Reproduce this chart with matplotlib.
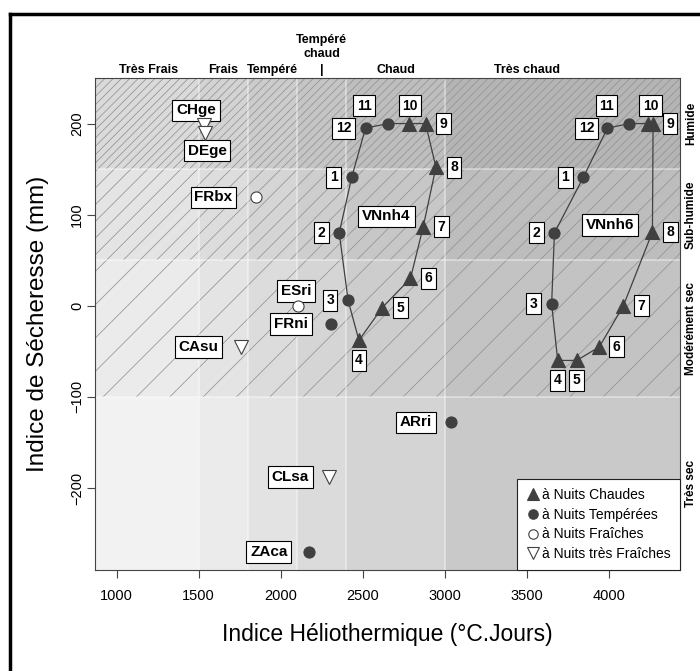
import matplotlib
matplotlib.use("Agg")
import matplotlib.pyplot as plt
from matplotlib.patches import Rectangle
from matplotlib.lines import Line2D
import matplotlib.transforms as mtransforms

plt.rcParams['font.family'] = ['Liberation Sans', 'DejaVu Sans']
plt.rcParams['hatch.linewidth'] = 0.55

# ---------------- data ----------------
months = ['1', '2', '3', '4', '5', '6', '7', '8', '9', '10', '11', '12']
vn4_x = [2432, 2356, 2410, 2476, 2618, 2790, 2868, 2945, 2882, 2780, 2654, 2516]
vn4_y = [141, 80, 6, -38, -2, 30, 87, 152, 200, 200, 200, 195]
vn6_x = [3843, 3667, 3650, 3687, 3803, 3941, 4087, 4264, 4268, 4240, 4124, 3990]
vn6_y = [141, 80, 2, -60, -60, -45, 0, 81, 200, 200, 200, 195]
# night class per month: 'T' = tempérées (filled circle), 'C' = chaudes (triangle)
vn4_night = ['T', 'T', 'T', 'C', 'C', 'C', 'C', 'C', 'C', 'C', 'T', 'T']
vn6_night = ['T', 'T', 'T', 'C', 'C', 'C', 'C', 'C', 'C', 'C', 'T', 'T']

stations = ['CHge', 'DEge', 'FRbx', 'ESri', 'FRni', 'CAsu', 'ARri', 'CLsa', 'ZAca']
st_x = [1532, 1538, 1846, 2106, 2305, 1760, 3038, 2296, 2171]
st_y = [198, 190, 119, 0, -20, -45, -128, -188, -270]
# 'C' chaudes, 'T' tempérées, 'F' fraîches, 'TF' très fraîches
st_night = ['TF', 'TF', 'F', 'F', 'T', 'TF', 'T', 'TF', 'T']

hi_bounds = [868, 1500, 1800, 2100, 2400, 3000, 4432]
hi_names = ['Très Frais', 'Frais', 'Tempéré', 'Tempéré\nchaud', 'Chaud', 'Très chaud']
is_bounds = [-290, -100, 50, 150, 250]
is_names = ['Très sec', 'Modérément sec', 'Sub-humide', 'Humide']

legend_labels = ['à Nuits Chaudes', 'à Nuits Tempérées', 'à Nuits Fraîches', 'à Nuits très Fraîches']

# label offsets (pixels) for month boxes
vn4_off = [(-18, 0), (-18, 0), (-18, 0), (0, -20), (18, 0), (18, 0), (18, 0), (18, 0),
           (18, 0), (1, 18), (-24, 18), (-22, 0)]
vn6_off = [(-18, 0), (-18, 0), (-18, 0), (0, -20), (0, -20), (17, 0), (18, 0), (18, 0),
           (17, 0), (2, 18), (-23, 18), (-21, 0)]
st_off = [(-8, 15), (2, -18), (-42, 0), (-2, 15), (-40, 0), (-43, 0), (-35, 0), (-39, 0), (-40, 0)]

# ---------------- figure ----------------
fig = plt.figure(figsize=(7.0, 6.71), dpi=100)
ax = fig.add_axes([95 / 700, 1 - 570 / 671, (680 - 95) / 700, (570 - 78) / 671])
ax.set_xlim(hi_bounds[0], hi_bounds[-1])
ax.set_ylim(is_bounds[0], is_bounds[-1])

x_alpha = [0.05, 0.08, 0.11, 0.14, 0.17, 0.21]
y_alpha = [0.0, 0.03, 0.06, 0.10]
for i in range(len(hi_bounds) - 1):
    for j in range(len(is_bounds) - 1):
        g = (1 - x_alpha[i]) * (1 - y_alpha[j])
        ax.add_patch(Rectangle((hi_bounds[i], is_bounds[j]), hi_bounds[i + 1] - hi_bounds[i],
                               is_bounds[j + 1] - is_bounds[j], facecolor=(g, g, g),
                               edgecolor='none', zorder=0))
# hatching
hatches = [None, '/', '//', '////']
for j in range(len(is_bounds) - 1):
    if hatches[j]:
        ax.add_patch(Rectangle((hi_bounds[0], is_bounds[j]), hi_bounds[-1] - hi_bounds[0],
                               is_bounds[j + 1] - is_bounds[j], facecolor='none',
                               edgecolor='#939393', linewidth=0, hatch=hatches[j], zorder=0.5))
# zone boundary lines
for b in hi_bounds[1:-1]:
    ax.axvline(b, color='white', alpha=0.45, lw=1.2, zorder=0.6)
for b in is_bounds[1:-1]:
    ax.axhline(b, color='white', alpha=0.45, lw=1.2, zorder=0.6)

dark = '#404040'
marker_style = {
    'C': dict(marker='^', ms=10, mfc=dark, mec=dark, mew=0.8),
    'T': dict(marker='o', ms=8, mfc=dark, mec=dark, mew=0.8),
    'F': dict(marker='o', ms=8, mfc='white', mec=dark, mew=0.8),
    'TF': dict(marker='v', ms=10, mfc='white', mec=dark, mew=0.8),
}

box = dict(boxstyle='square,pad=0.25', fc='white', ec='black', lw=0.8)

for xs, ys, nights, offs in [(vn4_x, vn4_y, vn4_night, vn4_off), (vn6_x, vn6_y, vn6_night, vn6_off)]:
    ax.plot(xs + xs[:1], ys + ys[:1], color=dark, lw=0.9, zorder=2)
    for k in range(len(xs)):
        ax.plot(xs[k], ys[k], ls='none', zorder=3, **marker_style[nights[k]])
        ax.annotate(months[k], (xs[k], ys[k]), xytext=offs[k], textcoords='offset pixels',
                    ha='center', va='center', fontsize=10, fontweight='bold', bbox=box, zorder=4)

ax.text(2644, 98, 'VNnh4', ha='center', va='center', fontsize=11, fontweight='bold', bbox=box, zorder=4)
ax.text(4006, 89, 'VNnh6', ha='center', va='center', fontsize=11, fontweight='bold', bbox=box, zorder=4)

for k in range(len(stations)):
    ax.plot(st_x[k], st_y[k], ls='none', zorder=4.5, **marker_style[st_night[k]])
    ax.annotate(stations[k], (st_x[k], st_y[k]), xytext=st_off[k], textcoords='offset pixels',
                ha='center', va='center', fontsize=11, fontweight='bold', bbox=box, zorder=4)

# axes styling
ax.set_xticks([1000, 1500, 2000, 2500, 3000, 3500, 4000])
ax.set_yticks([-200, -100, 0, 100, 200])
ax.set_yticklabels(['\u2212200', '\u2212100', '0', '100', '200'], rotation=90, va='center')
ax.tick_params(axis='both', labelsize=10.5, length=6, width=0.8, color='#444444', direction='out')
ax.tick_params(axis='x', pad=8)
ax.tick_params(axis='y', pad=2)
for s in ax.spines.values():
    s.set_color('#444444')
    s.set_linewidth(0.8)
ax.set_xlabel('Indice Héliothermique (°C.Jours)', fontsize=16.5, labelpad=14)
ax.set_ylabel('Indice de Sécheresse (mm)', fontsize=17.5, labelpad=15)

# zone names on top
trans_top = mtransforms.blended_transform_factory(ax.transData, ax.transAxes)
top_x = [1195, 1650, 1950, 2250, 2700, 3500]
for name, xx in zip(hi_names, top_x):
    if '\n' in name:
        ax.text(xx, 1.036, name, transform=trans_top, ha='center', va='bottom',
                fontsize=9, fontweight='bold', linespacing=1.2)
        ax.text(xx, 1.004, '|', transform=trans_top, ha='center', va='bottom',
                fontsize=9, fontweight='bold')
    else:
        ax.text(xx, 1.004, name, transform=trans_top, ha='center', va='bottom',
                fontsize=9, fontweight='bold')

# zone names on the right
trans_right = mtransforms.blended_transform_factory(ax.transAxes, ax.transData)
right_y = [-195, -25, 100, 200]
for name, yy in zip(is_names, right_y):
    ax.text(1.019, yy, name, transform=trans_right, ha='center', va='center', rotation=90,
            fontsize=8.5, fontweight='bold')

# legend
handles = [Line2D([], [], ls='none', **marker_style[c]) for c in ['C', 'T', 'F', 'TF']]
leg = ax.legend(handles, legend_labels, loc='lower right', fontsize=10, frameon=True,
                fancybox=False, borderaxespad=0, handletextpad=0.15, borderpad=0.65,
                labelspacing=0.4, handlelength=1.0, markerscale=0.85)
leg.get_frame().set_edgecolor('#222222')
leg.get_frame().set_linewidth(0.8)
leg.get_frame().set_alpha(1)
leg.set_zorder(5)

# figure frame (top and left visible)
fig.add_artist(Line2D([10 / 700, 10 / 700], [0, 1 - 14 / 671], transform=fig.transFigure,
                      color='black', lw=2.5))
fig.add_artist(Line2D([10 / 700, 1], [1 - 14 / 671, 1 - 14 / 671], transform=fig.transFigure,
                      color='black', lw=2.5))

fig.savefig('out.png', dpi=100)
